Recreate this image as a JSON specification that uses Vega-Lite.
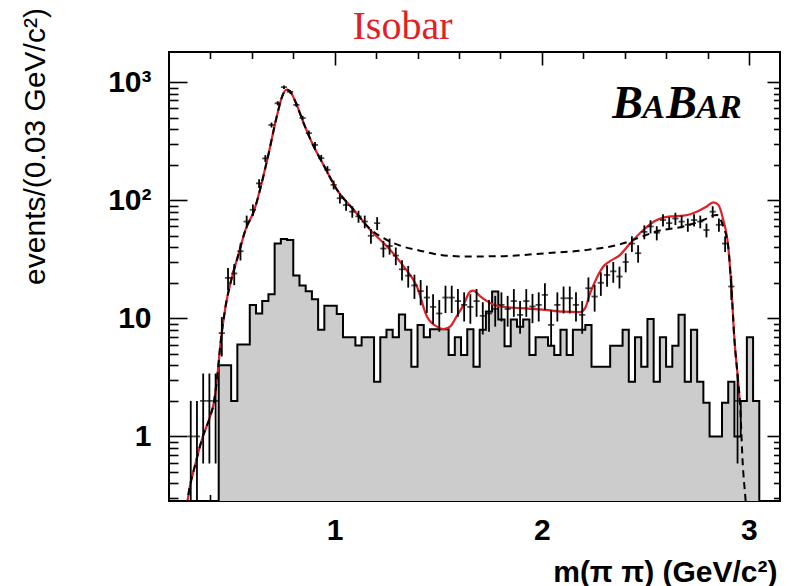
{
  "$schema": "https://vega.github.io/schema/vega-lite/v6.json",
  "width": 611,
  "height": 449,
  "autosize": {"type": "none"},
  "padding": {"left": 169, "top": 52, "right": 11, "bottom": 85},
  "background": "white",
  "config": {
    "view": {"stroke": "black", "strokeWidth": 2},
    "axis": {"domain": false, "grid": false, "tickColor": "black", "tickWidth": 1.6, "labelColor": "black", "titleColor": "black", "zindex": 1, "labelFont": "Liberation Sans", "titleFont": "Liberation Sans"}
  },
  "title": {"text": "Isobar", "color": "#e31f26", "font": "Liberation Serif", "fontSize": 40, "fontWeight": "normal", "anchor": "middle", "dx": -72, "offset": -39},
  "datasets": {
    "hist": [
      {"m": 0.44, "n": 0.2},
      {"m": 0.44, "n": 4}, {"m": 0.47, "n": 4}, {"m": 0.50, "n": 2}, {"m": 0.53, "n": 6}, {"m": 0.56, "n": 6},
      {"m": 0.59, "n": 13}, {"m": 0.62, "n": 11}, {"m": 0.65, "n": 14}, {"m": 0.68, "n": 16}, {"m": 0.71, "n": 43},
      {"m": 0.74, "n": 47}, {"m": 0.77, "n": 46}, {"m": 0.80, "n": 23}, {"m": 0.83, "n": 19}, {"m": 0.86, "n": 17},
      {"m": 0.89, "n": 14.5}, {"m": 0.92, "n": 8}, {"m": 0.95, "n": 12.8}, {"m": 0.98, "n": 12.8}, {"m": 1.01, "n": 10.9},
      {"m": 1.04, "n": 6.9}, {"m": 1.07, "n": 6.9}, {"m": 1.10, "n": 5.9}, {"m": 1.13, "n": 6.9}, {"m": 1.16, "n": 6.9},
      {"m": 1.19, "n": 2.9}, {"m": 1.22, "n": 6.9}, {"m": 1.25, "n": 8}, {"m": 1.28, "n": 6.9}, {"m": 1.31, "n": 10.8},
      {"m": 1.34, "n": 8}, {"m": 1.37, "n": 3.9}, {"m": 1.40, "n": 8.8}, {"m": 1.43, "n": 6.9}, {"m": 1.46, "n": 8.1},
      {"m": 1.49, "n": 8.1}, {"m": 1.52, "n": 8.1}, {"m": 1.55, "n": 4.9}, {"m": 1.58, "n": 6.9}, {"m": 1.61, "n": 4.9},
      {"m": 1.64, "n": 8.1}, {"m": 1.67, "n": 3.9}, {"m": 1.70, "n": 8}, {"m": 1.73, "n": 11.4}, {"m": 1.76, "n": 16.9},
      {"m": 1.79, "n": 9.8}, {"m": 1.82, "n": 5.8}, {"m": 1.85, "n": 9.8}, {"m": 1.88, "n": 8.5}, {"m": 1.91, "n": 9.8},
      {"m": 1.94, "n": 4.9}, {"m": 1.97, "n": 6.9}, {"m": 2.00, "n": 6.9}, {"m": 2.03, "n": 5.85}, {"m": 2.06, "n": 4.9},
      {"m": 2.09, "n": 8}, {"m": 2.12, "n": 4.9}, {"m": 2.15, "n": 8}, {"m": 2.18, "n": 8}, {"m": 2.21, "n": 8.8},
      {"m": 2.24, "n": 3.9}, {"m": 2.27, "n": 3.9}, {"m": 2.30, "n": 3.9}, {"m": 2.33, "n": 5.85}, {"m": 2.36, "n": 5.85},
      {"m": 2.39, "n": 8}, {"m": 2.42, "n": 2.9}, {"m": 2.45, "n": 6.9}, {"m": 2.48, "n": 3.9}, {"m": 2.51, "n": 9.85},
      {"m": 2.54, "n": 2.9}, {"m": 2.57, "n": 6.9}, {"m": 2.60, "n": 3.9}, {"m": 2.63, "n": 5.85}, {"m": 2.66, "n": 10.7},
      {"m": 2.69, "n": 2.9}, {"m": 2.72, "n": 8}, {"m": 2.75, "n": 2.9}, {"m": 2.78, "n": 1.93}, {"m": 2.81, "n": 1},
      {"m": 2.84, "n": 1}, {"m": 2.87, "n": 1.93}, {"m": 2.90, "n": 2.9}, {"m": 2.93, "n": 1}, {"m": 2.96, "n": 2},
      {"m": 2.99, "n": 6.9}, {"m": 3.02, "n": 2},
      {"m": 3.05, "n": 0.2}
    ],
    "pts": [
      {"m": 0.305, "n": 1, "lo": 0.1, "hi": 2}, {"m": 0.335, "n": 1, "lo": 0.1, "hi": 2},
      {"m": 0.365, "n": 2, "lo": 0.59, "hi": 3.41}, {"m": 0.395, "n": 2, "lo": 0.59, "hi": 3.41}, {"m": 0.425, "n": 2, "lo": 0.59, "hi": 3.41},
      {"m": 0.455, "n": 7.5, "lo": 4.76, "hi": 10.24}, {"m": 0.485, "n": 22, "lo": 17.3, "hi": 26.7}, {"m": 0.515, "n": 24, "lo": 19.1, "hi": 28.9},
      {"m": 0.545, "n": 37, "lo": 30.9, "hi": 43.1}, {"m": 0.575, "n": 66, "lo": 57.9, "hi": 74.1}, {"m": 0.605, "n": 83, "lo": 73.9, "hi": 92.1},
      {"m": 0.635, "n": 139, "lo": 127.2, "hi": 150.8}, {"m": 0.665, "n": 226, "lo": 211, "hi": 241}, {"m": 0.695, "n": 434, "lo": 413, "hi": 455},
      {"m": 0.725, "n": 663, "lo": 637, "hi": 689}, {"m": 0.755, "n": 907, "lo": 877, "hi": 937}, {"m": 0.785, "n": 828, "lo": 799, "hi": 857},
      {"m": 0.815, "n": 642, "lo": 617, "hi": 667}, {"m": 0.845, "n": 497, "lo": 475, "hi": 519}, {"m": 0.875, "n": 370, "lo": 351, "hi": 389},
      {"m": 0.905, "n": 294, "lo": 277, "hi": 311}, {"m": 0.935, "n": 227, "lo": 212, "hi": 242}, {"m": 0.965, "n": 181, "lo": 167.5, "hi": 194.5},
      {"m": 0.995, "n": 135, "lo": 123.4, "hi": 146.6}, {"m": 1.025, "n": 104, "lo": 93.8, "hi": 114.2}, {"m": 1.055, "n": 91, "lo": 81.5, "hi": 100.5},
      {"m": 1.085, "n": 80, "lo": 71.1, "hi": 88.9}, {"m": 1.115, "n": 73, "lo": 64.5, "hi": 81.5}, {"m": 1.145, "n": 66, "lo": 57.9, "hi": 74.1},
      {"m": 1.175, "n": 50, "lo": 42.9, "hi": 57.1}, {"m": 1.205, "n": 64, "lo": 56, "hi": 72}, {"m": 1.235, "n": 39, "lo": 32.8, "hi": 45.2},
      {"m": 1.265, "n": 41, "lo": 34.6, "hi": 47.4}, {"m": 1.295, "n": 34, "lo": 28.2, "hi": 39.8}, {"m": 1.325, "n": 26, "lo": 20.9, "hi": 31.1},
      {"m": 1.355, "n": 23, "lo": 18.2, "hi": 27.8}, {"m": 1.385, "n": 19, "lo": 14.6, "hi": 23.4}, {"m": 1.415, "n": 17, "lo": 12.9, "hi": 21.1},
      {"m": 1.445, "n": 15, "lo": 11.1, "hi": 18.9}, {"m": 1.475, "n": 12.5, "lo": 9, "hi": 16}, {"m": 1.505, "n": 11, "lo": 7.7, "hi": 14.3},
      {"m": 1.535, "n": 15, "lo": 11.1, "hi": 18.9}, {"m": 1.565, "n": 15, "lo": 11.1, "hi": 18.9}, {"m": 1.595, "n": 14, "lo": 10.3, "hi": 17.7},
      {"m": 1.625, "n": 13, "lo": 9.4, "hi": 16.6}, {"m": 1.655, "n": 12.5, "lo": 9, "hi": 16}, {"m": 1.685, "n": 14, "lo": 10.3, "hi": 17.7},
      {"m": 1.715, "n": 10.5, "lo": 7.3, "hi": 13.7}, {"m": 1.745, "n": 11, "lo": 7.7, "hi": 14.3}, {"m": 1.775, "n": 12, "lo": 8.5, "hi": 15.5},
      {"m": 1.805, "n": 13, "lo": 9.4, "hi": 16.6}, {"m": 1.835, "n": 12, "lo": 8.5, "hi": 15.5}, {"m": 1.865, "n": 14, "lo": 10.3, "hi": 17.7},
      {"m": 1.895, "n": 10.7, "lo": 7.4, "hi": 14}, {"m": 1.925, "n": 14, "lo": 10.3, "hi": 17.7}, {"m": 1.955, "n": 12.6, "lo": 9.1, "hi": 16.1},
      {"m": 1.985, "n": 13, "lo": 9.4, "hi": 16.6}, {"m": 2.015, "n": 15.8, "lo": 11.8, "hi": 19.8}, {"m": 2.045, "n": 8.8, "lo": 5.8, "hi": 11.8},
      {"m": 2.075, "n": 13, "lo": 9.4, "hi": 16.6}, {"m": 2.105, "n": 14.8, "lo": 11, "hi": 18.6}, {"m": 2.135, "n": 14.8, "lo": 11, "hi": 18.6},
      {"m": 2.165, "n": 13, "lo": 9.4, "hi": 16.6}, {"m": 2.195, "n": 10.7, "lo": 7.4, "hi": 14}, {"m": 2.225, "n": 18, "lo": 13.8, "hi": 22.2},
      {"m": 2.255, "n": 15.3, "lo": 11.4, "hi": 19.2}, {"m": 2.285, "n": 20, "lo": 15.5, "hi": 24.5}, {"m": 2.315, "n": 23.3, "lo": 18.5, "hi": 28.1},
      {"m": 2.345, "n": 25, "lo": 20, "hi": 30}, {"m": 2.375, "n": 22.6, "lo": 17.9, "hi": 27.4}, {"m": 2.405, "n": 30, "lo": 24.5, "hi": 35.5},
      {"m": 2.435, "n": 43, "lo": 36.4, "hi": 49.6}, {"m": 2.465, "n": 35.6, "lo": 29.6, "hi": 41.6}, {"m": 2.495, "n": 54, "lo": 46.7, "hi": 61.3},
      {"m": 2.525, "n": 60, "lo": 52.3, "hi": 67.7}, {"m": 2.555, "n": 53, "lo": 45.7, "hi": 60.3}, {"m": 2.585, "n": 68, "lo": 59.8, "hi": 76.2},
      {"m": 2.615, "n": 64, "lo": 56, "hi": 72}, {"m": 2.645, "n": 70, "lo": 61.6, "hi": 78.4}, {"m": 2.675, "n": 66, "lo": 57.9, "hi": 74.1},
      {"m": 2.705, "n": 62, "lo": 54.1, "hi": 69.9}, {"m": 2.735, "n": 68, "lo": 59.8, "hi": 76.2}, {"m": 2.765, "n": 66, "lo": 57.9, "hi": 74.1},
      {"m": 2.795, "n": 56, "lo": 48.5, "hi": 63.5}, {"m": 2.825, "n": 80, "lo": 71.1, "hi": 88.9}, {"m": 2.855, "n": 62, "lo": 54.1, "hi": 69.9},
      {"m": 2.885, "n": 43, "lo": 36.4, "hi": 49.6}, {"m": 2.915, "n": 18.6, "lo": 14.3, "hi": 22.9}, {"m": 2.945, "n": 2, "lo": 0.59, "hi": 3.41}
    ],
    "red": [
      {"m": 0.28, "n": 0.2}, {"m": 0.288, "n": 0.27}, {"m": 0.328, "n": 0.59}, {"m": 0.361, "n": 0.97}, {"m": 0.401, "n": 1.52},
      {"m": 0.416, "n": 1.91}, {"m": 0.433, "n": 3.2}, {"m": 0.449, "n": 6.2}, {"m": 0.473, "n": 12.6}, {"m": 0.497, "n": 19.9},
      {"m": 0.537, "n": 35.6}, {"m": 0.569, "n": 56}, {"m": 0.609, "n": 80}, {"m": 0.674, "n": 219}, {"m": 0.722, "n": 527},
      {"m": 0.746, "n": 755}, {"m": 0.767, "n": 863}, {"m": 0.786, "n": 828}, {"m": 0.81, "n": 685}, {"m": 0.85, "n": 450},
      {"m": 0.899, "n": 285}, {"m": 0.947, "n": 198}, {"m": 1.012, "n": 122}, {"m": 1.092, "n": 83}, {"m": 1.172, "n": 56},
      {"m": 1.253, "n": 40.5}, {"m": 1.333, "n": 27.5}, {"m": 1.397, "n": 18.6}, {"m": 1.446, "n": 10.3}, {"m": 1.494, "n": 8.5},
      {"m": 1.525, "n": 8.1}, {"m": 1.56, "n": 8.6}, {"m": 1.59, "n": 10.5}, {"m": 1.622, "n": 13}, {"m": 1.654, "n": 16.9},
      {"m": 1.67, "n": 17.2}, {"m": 1.7, "n": 15.5}, {"m": 1.735, "n": 14}, {"m": 1.799, "n": 12.6}, {"m": 1.896, "n": 12.2},
      {"m": 2.016, "n": 11.8}, {"m": 2.1, "n": 11.4}, {"m": 2.185, "n": 11.3}, {"m": 2.209, "n": 12.2}, {"m": 2.233, "n": 16.3},
      {"m": 2.265, "n": 22}, {"m": 2.297, "n": 27.5}, {"m": 2.33, "n": 30.5}, {"m": 2.378, "n": 34.5}, {"m": 2.426, "n": 43},
      {"m": 2.49, "n": 56}, {"m": 2.555, "n": 68}, {"m": 2.619, "n": 73}, {"m": 2.683, "n": 74}, {"m": 2.748, "n": 80},
      {"m": 2.796, "n": 88.6}, {"m": 2.828, "n": 96}, {"m": 2.852, "n": 91.5}, {"m": 2.876, "n": 68}, {"m": 2.9, "n": 40.5},
      {"m": 2.915, "n": 18.6}, {"m": 2.93, "n": 6.6}, {"m": 2.946, "n": 3.2}, {"m": 2.957, "n": 1.9}
    ],
    "dash": [
      {"m": 0.28, "n": 0.2}, {"m": 0.288, "n": 0.27}, {"m": 0.328, "n": 0.59}, {"m": 0.361, "n": 0.97}, {"m": 0.401, "n": 1.52},
      {"m": 0.416, "n": 1.91}, {"m": 0.433, "n": 3.2}, {"m": 0.449, "n": 6.2}, {"m": 0.473, "n": 12.6}, {"m": 0.497, "n": 19.9},
      {"m": 0.537, "n": 35.6}, {"m": 0.569, "n": 56}, {"m": 0.609, "n": 80}, {"m": 0.674, "n": 219}, {"m": 0.722, "n": 527},
      {"m": 0.746, "n": 755}, {"m": 0.767, "n": 863}, {"m": 0.786, "n": 828}, {"m": 0.81, "n": 685}, {"m": 0.85, "n": 450},
      {"m": 0.899, "n": 285}, {"m": 0.947, "n": 198}, {"m": 1.012, "n": 122}, {"m": 1.092, "n": 83}, {"m": 1.172, "n": 57},
      {"m": 1.253, "n": 46}, {"m": 1.33, "n": 40.5}, {"m": 1.397, "n": 38}, {"m": 1.51, "n": 34.4}, {"m": 1.63, "n": 33.4},
      {"m": 1.8, "n": 33.6}, {"m": 2.02, "n": 35.6}, {"m": 2.22, "n": 38}, {"m": 2.38, "n": 42.5}, {"m": 2.46, "n": 47.5},
      {"m": 2.555, "n": 54.6}, {"m": 2.683, "n": 60}, {"m": 2.78, "n": 68}, {"m": 2.845, "n": 75}, {"m": 2.876, "n": 60},
      {"m": 2.9, "n": 40.5}, {"m": 2.915, "n": 18.6}, {"m": 2.93, "n": 6.6}, {"m": 2.946, "n": 3.2}, {"m": 2.957, "n": 1.9},
      {"m": 2.97, "n": 0.59}, {"m": 2.983, "n": 0.3}, {"m": 2.99, "n": 0.2}
    ]
  },
  "layer": [
    {
      "data": {"name": "hist"},
      "mark": {"type": "area", "interpolate": "step-after", "color": "#cccccc", "clip": true},
      "encoding": {
        "x": {"field": "m", "type": "quantitative", "scale": {"domain": [0.2, 3.15], "nice": false, "zero": false},
          "axis": {"orient": "bottom", "values": [0.4, 0.6, 0.8, 1, 1.2, 1.4, 1.6, 1.8, 2, 2.2, 2.4, 2.6, 2.8, 3],
            "labelExpr": "datum.value == 1 ? '1' : datum.value == 2 ? '2' : datum.value == 3 ? '3' : ''",
            "tickSize": {"condition": {"test": "datum.value == 1 || datum.value == 2 || datum.value == 3", "value": -13}, "value": -6.5},
            "labelPadding": 27, "labelFontSize": 30, "labelFontWeight": "bold", "labelFlush": false,
            "title": "m(π π) (GeV/c²)", "titleFontSize": 30, "titleFontWeight": "bold", "titleAnchor": "end", "titleAlign": "right",
            "titleX": 608, "titleY": 80, "titleBaseline": "alphabetic"}},
        "y": {"field": "n", "type": "quantitative", "scale": {"type": "log", "domain": [0.284, 1800], "nice": false},
          "axis": {"orient": "left", "values": [0.3, 0.4, 0.5, 0.6, 0.7, 0.8, 0.9, 1, 2, 3, 4, 5, 6, 7, 8, 9, 10, 20, 30, 40, 50, 60, 70, 80, 90, 100, 200, 300, 400, 500, 600, 700, 800, 900, 1000],
            "labelExpr": "datum.value == 1 ? '1' : datum.value == 10 ? '10' : datum.value == 100 ? '10²' : datum.value == 1000 ? '10³' : ''",
            "tickSize": {"condition": {"test": "datum.value == 1 || datum.value == 10 || datum.value == 100 || datum.value == 1000", "value": -18}, "value": -9},
            "labelPadding": 36, "labelFontSize": 30, "labelFontWeight": "bold", "labelFlush": false, "labelBaseline": "middle",
            "title": "events/(0.03 GeV/c²)", "titleFontSize": 30, "titleFontWeight": "normal", "titleAngle": -90,
            "titleX": -134, "titleY": 94, "titleAlign": "center", "titleBaseline": "middle"}},
        "y2": {"datum": 0.2}
      }
    },
    {
      "data": {"name": "hist"},
      "mark": {"type": "line", "interpolate": "step-after", "color": "black", "strokeWidth": 2, "clip": true},
      "encoding": {
        "x": {"field": "m", "type": "quantitative",
          "axis": {"orient": "top", "values": [0.4, 0.6, 0.8, 1, 1.2, 1.4, 1.6, 1.8, 2, 2.2, 2.4, 2.6, 2.8, 3], "labels": false, "title": null,
            "tickSize": {"condition": {"test": "datum.value == 1 || datum.value == 2 || datum.value == 3", "value": -13}, "value": -6.5}}},
        "y": {"field": "n", "type": "quantitative",
          "axis": {"orient": "right", "values": [0.3, 0.4, 0.5, 0.6, 0.7, 0.8, 0.9, 1, 2, 3, 4, 5, 6, 7, 8, 9, 10, 20, 30, 40, 50, 60, 70, 80, 90, 100, 200, 300, 400, 500, 600, 700, 800, 900, 1000], "labels": false, "title": null,
            "tickSize": {"condition": {"test": "datum.value == 1 || datum.value == 10 || datum.value == 100 || datum.value == 1000", "value": -13}, "value": -6.5}}}
      }
    },
    {
      "data": {"name": "red"},
      "mark": {"type": "line", "interpolate": "monotone", "color": "#e31f26", "strokeWidth": 2.2, "clip": true},
      "encoding": {
        "x": {"field": "m", "type": "quantitative", "axis": null},
        "y": {"field": "n", "type": "quantitative", "axis": null}
      }
    },
    {
      "data": {"name": "dash"},
      "mark": {"type": "line", "interpolate": "monotone", "color": "black", "strokeWidth": 2, "strokeDash": [7, 5], "clip": true},
      "encoding": {
        "x": {"field": "m", "type": "quantitative", "axis": null},
        "y": {"field": "n", "type": "quantitative", "axis": null}
      }
    },
    {
      "data": {"name": "pts"},
      "mark": {"type": "rule", "color": "black", "strokeWidth": 1.8, "clip": true},
      "encoding": {
        "x": {"field": "m", "type": "quantitative", "axis": null},
        "y": {"field": "lo", "type": "quantitative", "axis": null},
        "y2": {"field": "hi"}
      }
    },
    {
      "data": {"name": "pts"},
      "mark": {"type": "tick", "orient": "horizontal", "color": "black", "size": 6.2, "thickness": 1.8, "clip": true},
      "encoding": {
        "x": {"field": "m", "type": "quantitative", "axis": null},
        "y": {"field": "n", "type": "quantitative", "axis": null}
      }
    },
    {
      "data": {"values": [{"t": "B"}]},
      "mark": {"type": "text", "text": "B", "font": "Liberation Serif", "fontStyle": "italic", "fontWeight": "bold", "fontSize": 46, "align": "left", "baseline": "alphabetic", "color": "black"},
      "encoding": {"x": {"datum": 2.34, "type": "quantitative", "axis": null}, "y": {"datum": 500, "type": "quantitative", "axis": null}}
    },
    {
      "data": {"values": [{"t": "A"}]},
      "mark": {"type": "text", "text": "A", "font": "Liberation Serif", "fontStyle": "italic", "fontWeight": "bold", "fontSize": 34, "align": "left", "baseline": "alphabetic", "color": "black", "dx": 30},
      "encoding": {"x": {"datum": 2.34, "type": "quantitative", "axis": null}, "y": {"datum": 500, "type": "quantitative", "axis": null}}
    },
    {
      "data": {"values": [{"t": "B"}]},
      "mark": {"type": "text", "text": "B", "font": "Liberation Serif", "fontStyle": "italic", "fontWeight": "bold", "fontSize": 46, "align": "left", "baseline": "alphabetic", "color": "black", "dx": 54},
      "encoding": {"x": {"datum": 2.34, "type": "quantitative", "axis": null}, "y": {"datum": 500, "type": "quantitative", "axis": null}}
    },
    {
      "data": {"values": [{"t": "AR"}]},
      "mark": {"type": "text", "text": "AR", "font": "Liberation Serif", "fontStyle": "italic", "fontWeight": "bold", "fontSize": 34, "align": "left", "baseline": "alphabetic", "color": "black", "dx": 84},
      "encoding": {"x": {"datum": 2.34, "type": "quantitative", "axis": null}, "y": {"datum": 500, "type": "quantitative", "axis": null}}
    }
  ],
  "resolve": {"axis": {"x": "independent", "y": "independent"}}
}
